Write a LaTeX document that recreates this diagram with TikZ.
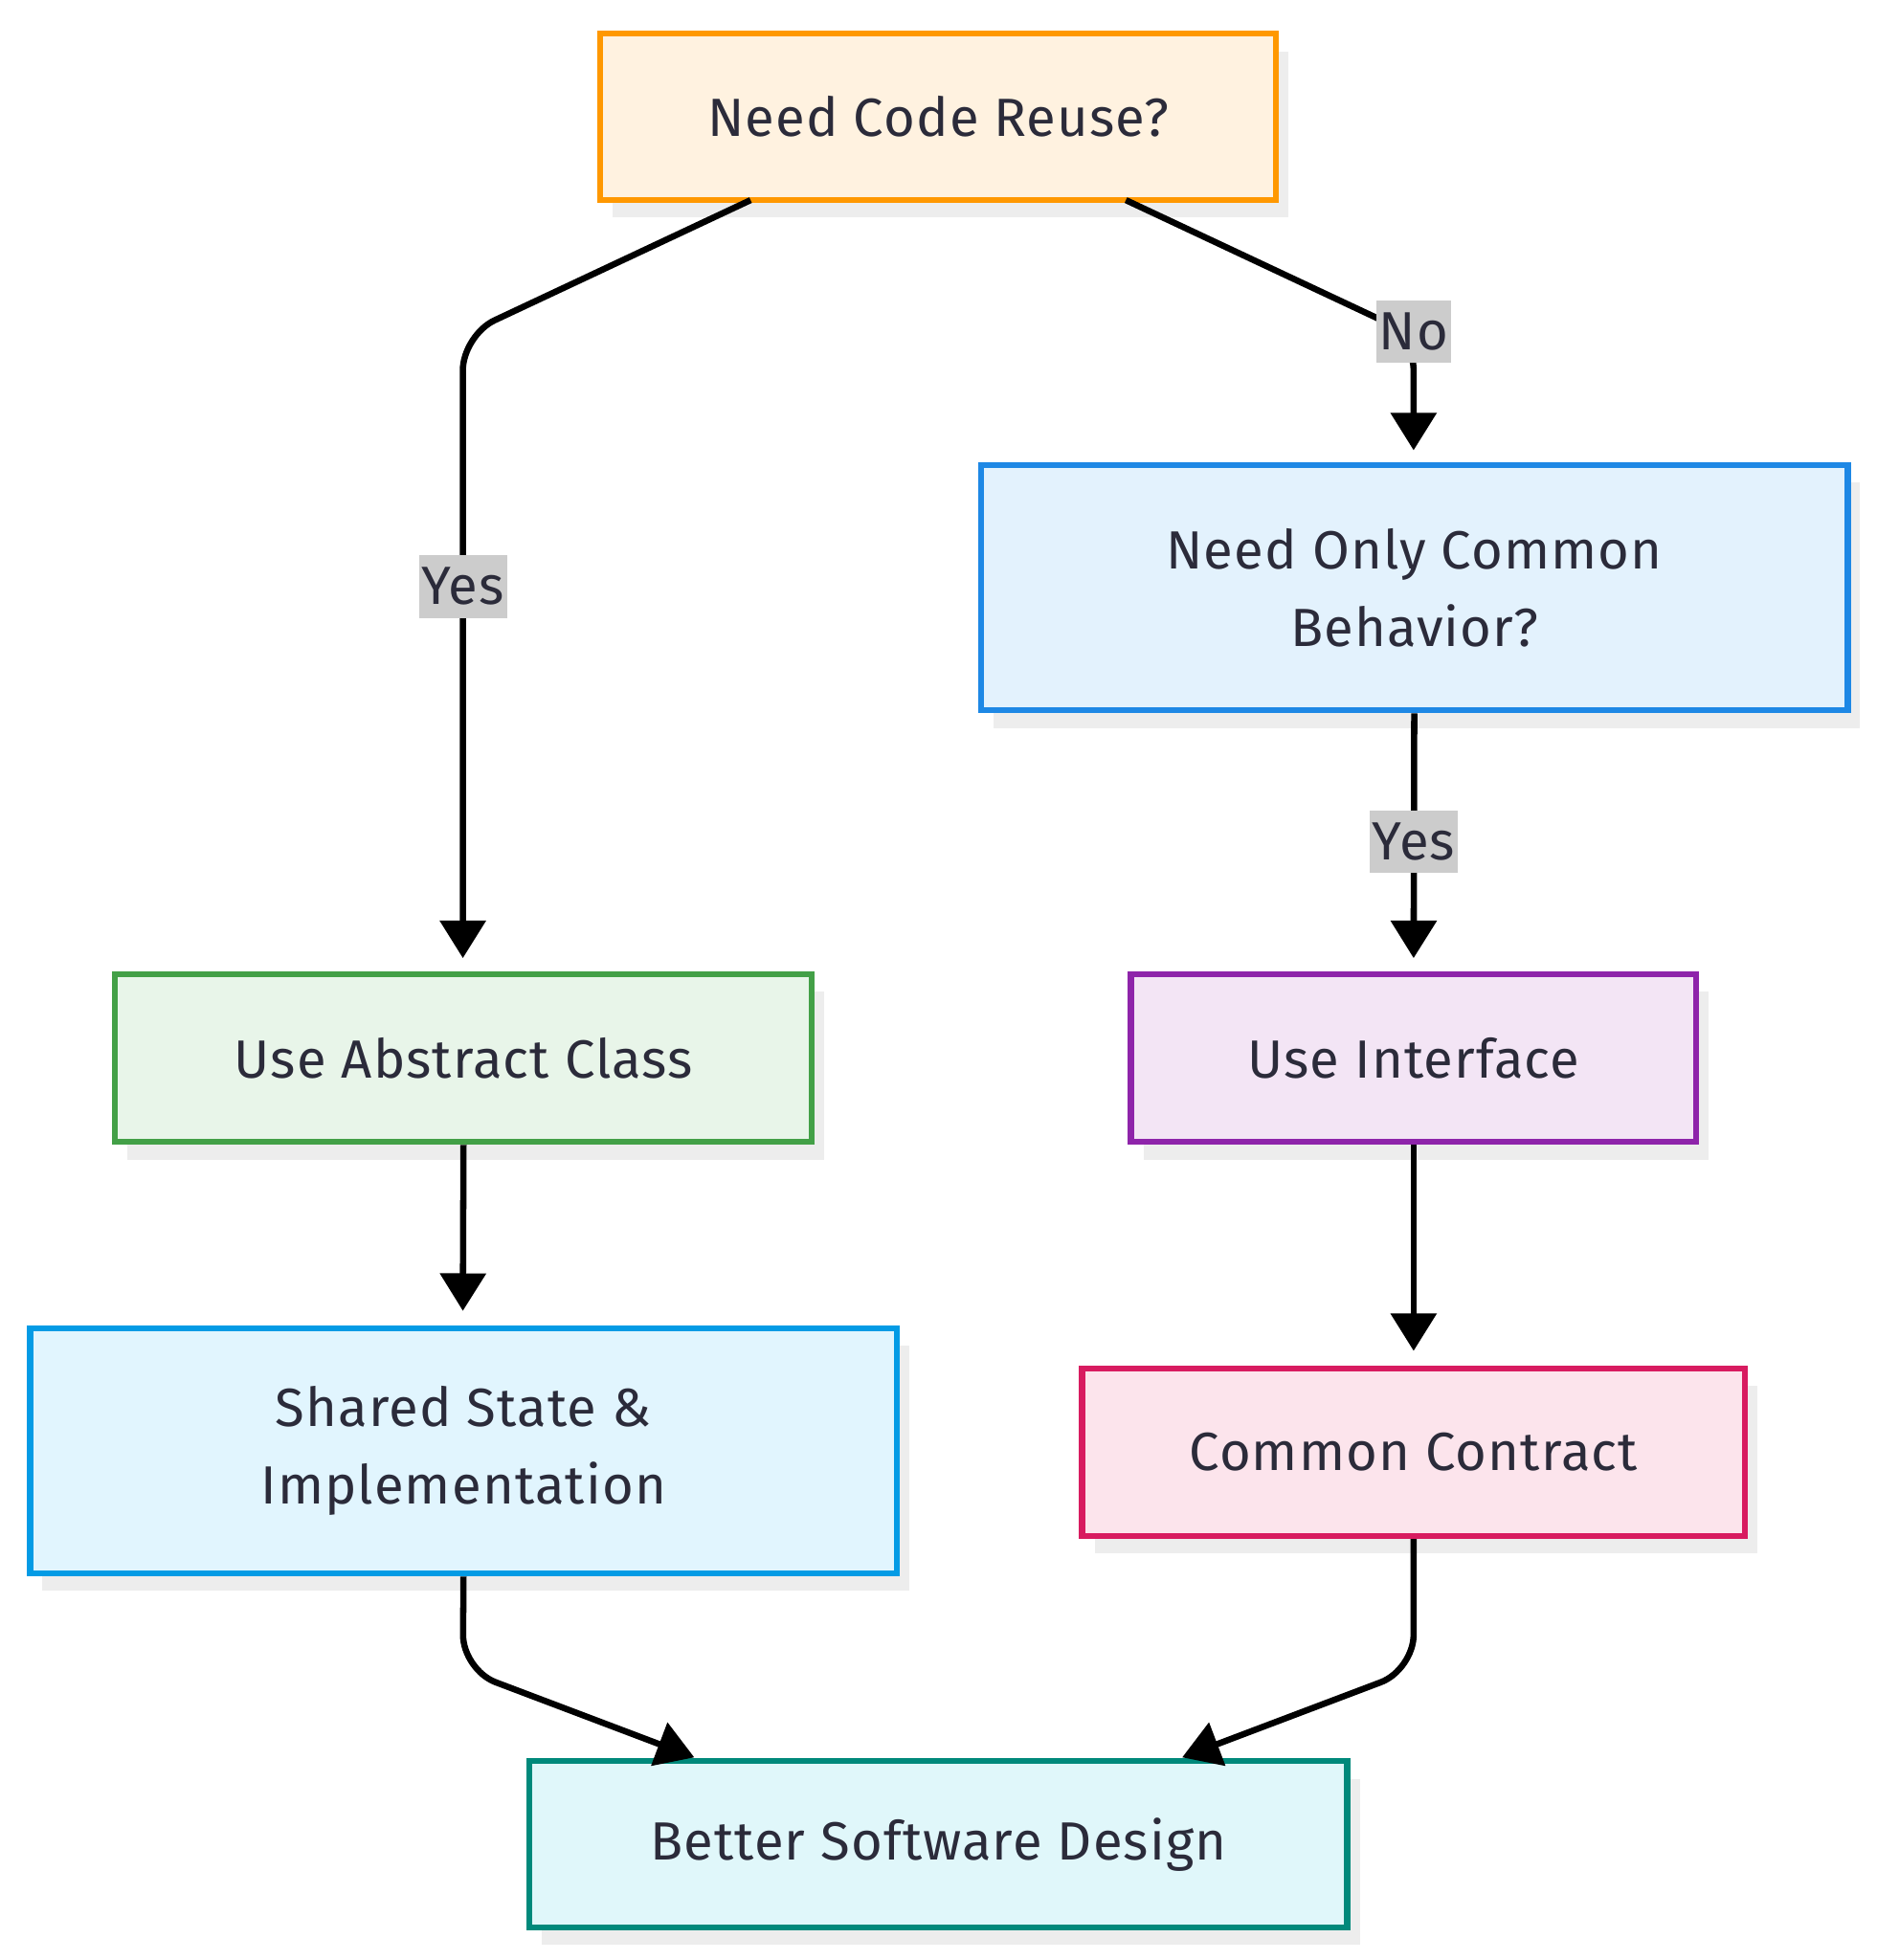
\documentclass[tikz,border=0pt]{standalone}
\usepackage{fontspec}
\setmainfont{Fira Sans}[LetterSpace=2]
\usetikzlibrary{arrows.meta,shadows}
\definecolor{txt}{HTML}{2B2B3A}
\definecolor{cA}{HTML}{FF9800}\definecolor{fA}{HTML}{FFF2E0}
\definecolor{cB}{HTML}{1E88E5}\definecolor{fB}{HTML}{E3F2FD}
\definecolor{cC}{HTML}{43A047}\definecolor{fC}{HTML}{E8F5E9}
\definecolor{cD}{HTML}{8E24AA}\definecolor{fD}{HTML}{F3E5F5}
\definecolor{cE}{HTML}{039BE5}\definecolor{fE}{HTML}{E1F5FE}
\definecolor{cF}{HTML}{D81B60}\definecolor{fF}{HTML}{FCE4EC}
\definecolor{cG}{HTML}{00897B}\definecolor{fG}{HTML}{E0F7FA}
\tikzset{
 box/.style={draw, line width=2.4pt, inner sep=0pt, align=center, text=txt,
   font=\fontsize{21.5pt}{31pt}\selectfont,
   drop shadow={shadow xshift=5pt, shadow yshift=-7pt, fill=black!7, opacity=1}},
 lbl/.style={fill=black!20, inner xsep=1pt, inner ysep=5pt, text=txt, font=\fontsize{21.5pt}{24pt}\selectfont},
 edge/.style={line width=2.5pt, rounded corners=14pt, -{Triangle[width=18pt,length=15pt]}},
}
\begin{document}
\begin{tikzpicture}[x=0.5pt,y=-0.5pt]
\useasboundingbox (0,0) rectangle (1500,1567);
\node[box, draw=cA, fill=fA, minimum width=270pt, minimum height=66.5pt] (A) at (750,93.5) {Need Code Reuse?};
\node[box, draw=cB, fill=fB, minimum width=346.5pt, minimum height=98pt] (B) at (1130.5,470) {Need Only Common\\Behavior?};
\node[box, draw=cC, fill=fC, minimum width=278.5pt, minimum height=67pt] (C) at (370.5,846) {Use Abstract Class};
\node[box, draw=cD, fill=fD, minimum width=226pt, minimum height=67pt] (D) at (1130,846) {Use Interface};
\node[box, draw=cE, fill=fE, minimum width=346.5pt, minimum height=98pt] (E) at (370.5,1160) {Shared State \&\\Implementation};
\node[box, draw=cF, fill=fF, minimum width=265pt, minimum height=67pt] (F) at (1130,1161) {Common Contract};
\node[box, draw=cG, fill=fG, minimum width=327pt, minimum height=66.5pt] (G) at (750,1474.5) {Better Software Design};

\coordinate (a1) at (600,160);
\coordinate (a2) at (900,160);
\coordinate (bt) at (1130,360);
\coordinate (ct) at (370,766);
\coordinate (dt) at (1130,766);
\coordinate (et) at (370,1048);
\coordinate (ft) at (1130,1080);
\draw[edge] (a1) -- (370,268) -- (ct);
\draw[edge] (a2) -- (1130,268) -- (bt);
\node[lbl] (y1) at (370,469) {Yes};
\node[lbl] (n1) at (1130,265) {No};
\draw[edge] (B.south) -- (dt);
\node[lbl] (y2) at (1130,673) {Yes};
\draw[edge] (C.south) -- (et);
\draw[edge] (D.south) -- (ft);
\coordinate (g1) at (555,1405);
\coordinate (g2) at (945,1405);
\draw[edge] (E.south) -- (370,1335) -- (g1);
\draw[edge] (F.south) -- (1130,1335) -- (g2);
\end{tikzpicture}
\end{document}
